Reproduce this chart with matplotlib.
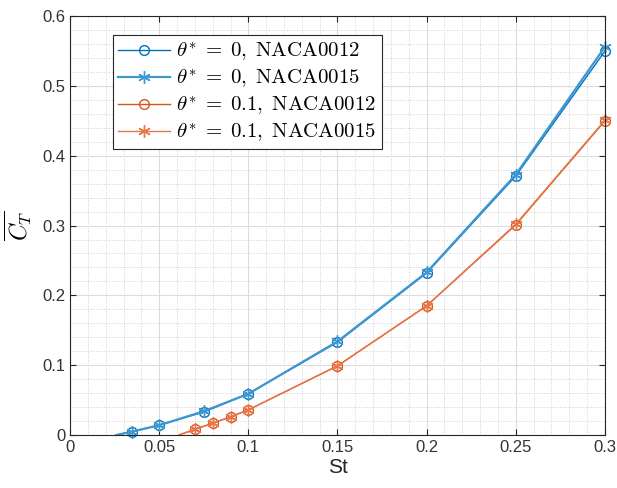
import matplotlib.pyplot as plt
import numpy as np
from matplotlib.ticker import MultipleLocator

plt.rcParams['mathtext.fontset'] = 'cm'
plt.rcParams['font.family'] = ['Liberation Sans', 'DejaVu Sans']

# first point of each series is where the line leaves the x axis (no marker)
st_blue = [0.026, 0.035, 0.05, 0.075, 0.1, 0.15, 0.2, 0.25, 0.3]
ct_blue_0012 = [0.0, 0.005, 0.014, 0.033, 0.059, 0.133, 0.232, 0.371, 0.550]
ct_blue_0015 = [0.0, 0.005, 0.014, 0.034, 0.059, 0.134, 0.233, 0.373, 0.556]

st_orange = [0.061, 0.07, 0.08, 0.09, 0.1, 0.15, 0.2, 0.25, 0.3]
ct_orange_0012 = [0.0, 0.008, 0.017, 0.026, 0.036, 0.099, 0.185, 0.301, 0.450]
ct_orange_0015 = [0.0, 0.008, 0.017, 0.026, 0.036, 0.099, 0.185, 0.302, 0.451]

xticks = [0, 0.05, 0.1, 0.15, 0.2, 0.25, 0.3]
xticklabels = ['0', '0.05', '0.1', '0.15', '0.2', '0.25', '0.3']
yticks = [0, 0.1, 0.2, 0.3, 0.4, 0.5, 0.6]
yticklabels = ['0', '0.1', '0.2', '0.3', '0.4', '0.5', '0.6']

labels = [r'$\theta^{*}\;=\;0,\;\mathrm{NACA0012}$',
          r'$\theta^{*}\;=\;0,\;\mathrm{NACA0015}$',
          r'$\theta^{*}\;=\;0.1,\;\mathrm{NACA0012}$',
          r'$\theta^{*}\;=\;0.1,\;\mathrm{NACA0015}$']

fig = plt.figure(figsize=(6.17, 4.88), dpi=100)
ax = fig.add_axes([0.1135, 0.1086, 0.867, 0.8584])

star = (6, 2, 0)
mk = list(range(1, len(st_blue)))
ax.plot(st_blue, ct_blue_0012, color='#0072BD', lw=1.0, marker='o', ms=7,
        mfc='none', mew=1.0, markevery=mk, label=labels[0], clip_on=False)
ax.plot(st_blue, ct_blue_0015, color='#3E97D1', lw=1.6, marker=star, ms=9,
        mfc='none', mew=1.0, markevery=mk, label=labels[1], clip_on=False)
ax.plot(st_orange, ct_orange_0012, color='#D95319', lw=1.0, marker='o', ms=7,
        mfc='none', mew=1.0, markevery=mk, label=labels[2], clip_on=False)
ax.plot(st_orange, ct_orange_0015, color='#E5784A', lw=1.0, marker=star, ms=9,
        mfc='none', mew=1.0, markevery=mk, label=labels[3], clip_on=False)

ax.set_xticks(xticks)
ax.set_xticklabels(xticklabels)
ax.set_yticks(yticks)
ax.set_yticklabels(yticklabels)
ax.xaxis.set_minor_locator(MultipleLocator(0.01))
ax.yaxis.set_minor_locator(MultipleLocator(0.02))
ax.set_xlim(0, 0.3)
ax.set_ylim(0, 0.6)

ax.grid(which='major', color='#DCDCDC', lw=0.8, ls='-')
ax.grid(which='minor', color='#D0D0D0', lw=0.7, ls=':')
ax.set_axisbelow(True)
ax.tick_params(which='both', direction='in', colors='#262626', labelsize=12,
               top=True, right=True)
ax.tick_params(which='major', length=4)
ax.tick_params(which='minor', length=0)
for lbl in ax.get_xticklabels() + ax.get_yticklabels():
    lbl.set_color('#333333')
for s in ax.spines.values():
    s.set_color('#262626')
    s.set_linewidth(0.8)

ax.set_xlabel('St', fontsize=15, color='#262626', labelpad=2)
ax.set_ylabel(r'$\overline{C_T}$', fontsize=17, labelpad=6)

leg = ax.legend(loc='upper left', bbox_to_anchor=(0.08, 0.955), borderaxespad=0,
                fontsize=15, fancybox=False, edgecolor='#262626', framealpha=1,
                handlelength=2.5, handletextpad=0.3, labelspacing=0.2,
                borderpad=0.25)
leg.get_frame().set_linewidth(0.8)

fig.savefig('out.png', dpi=100)
